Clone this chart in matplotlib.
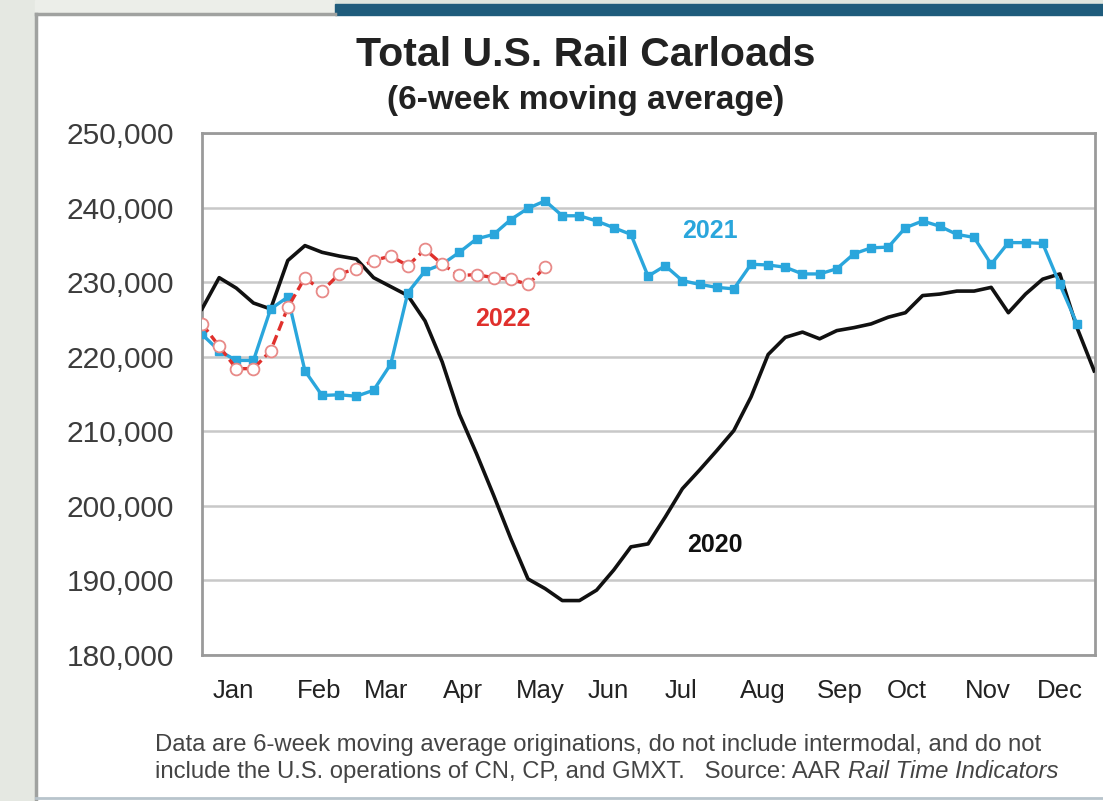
import matplotlib
matplotlib.use("Agg")
from matplotlib import pyplot as plt
from matplotlib.patches import Rectangle
from matplotlib.lines import Line2D
from matplotlib.ticker import FuncFormatter

plt.rcParams["font.family"] = ["Liberation Sans", "DejaVu Sans"]

# weekly 6-week moving averages of carloads
weeks_2020 = list(range(53))
carloads_2020 = [226400, 230600, 229200, 227200, 226400, 232900, 234900, 234000, 233500, 233100,
                 230600, 229400, 228200, 224800, 219300, 212300, 207000, 201400, 195600, 190200,
                 188900, 187300, 187300, 188700, 191400, 194500, 194900, 198500, 202300, 204800,
                 207400, 210100, 214600, 220300, 222600, 223300, 222400, 223500, 223900, 224400,
                 225300, 225900, 228200, 228400, 228800, 228800, 229300, 225900, 228400, 230400,
                 231100, 223900, 218100]

weeks_2021 = list(range(52))
carloads_2021 = [223000, 220800, 219500, 219500, 226400, 228000, 218100, 214800, 214900, 214700,
                 215500, 219000, 228600, 231500, 232400, 234000, 235800, 236400, 238400, 239900,
                 240900, 238900, 238900, 238200, 237300, 236400, 230800, 232200, 230200, 229700,
                 229300, 229100, 232400, 232300, 232000, 231100, 231100, 231800, 233800, 234600,
                 234700, 237300, 238200, 237500, 236400, 236000, 232400, 235300, 235300, 235200,
                 229700, 224400]

weeks_2022 = list(range(21))
carloads_2022 = [224400, 221400, 218400, 218400, 220800, 226600, 230600, 228800, 231100, 231800,
                 232900, 233500, 232200, 234400, 232400, 230900, 231000, 230600, 230400, 229700,
                 232000]

month_labels = ["Jan", "Feb", "Mar", "Apr", "May", "Jun", "Jul", "Aug", "Sep", "Oct", "Nov", "Dec"]
month_pos = [1.8, 6.8, 10.7, 15.2, 19.7, 23.7, 27.9, 32.7, 37.2, 41.1, 45.8, 50.0]
y_ticks = [180000, 190000, 200000, 210000, 220000, 230000, 240000, 250000]

blue = "#2aa6dc"
red = "#e0302c"

fig = plt.figure(figsize=(11.03, 8.01), dpi=100)
W, H = 1103, 801

def px(x, y, w, h):
    # rectangle in pixel units measured from the top-left corner
    return (x / W, 1 - (y + h) / H), w / W, h / H

# slide frame around the chart
for (x, y, w, h), c in [((0, 0, 35, 801), "#e5e8e2"), ((35, 0, 300, 14), "#eceee9"),
                        ((335, 0, 768, 4), "#dfe6df"), ((335, 4, 768, 11), "#1f5c7c")]:
    xy, ww, hh = px(x, y, w, h)
    fig.patches.append(Rectangle(xy, ww, hh, transform=fig.transFigure, color=c, zorder=0))
fig.lines.append(Line2D([36 / W, 36 / W], [0, 1 - 14 / H], transform=fig.transFigure,
                        color="#a0a2a0", lw=2.5))
fig.lines.append(Line2D([36 / W, 335 / W], [1 - 14 / H, 1 - 14 / H], transform=fig.transFigure,
                        color="#a0a2a0", lw=2.5))
fig.lines.append(Line2D([36 / W, 1], [1 - 798 / H, 1 - 798 / H], transform=fig.transFigure,
                        color="#b8c4cc", lw=2))

ax = fig.add_axes([202 / W, 1 - 655 / H, (1095 - 202) / W, (655 - 133) / H])
ax.set_xlim(0, 52.05)
ax.set_ylim(180000, 250000)

ax.plot(weeks_2020, carloads_2020, color="#111111", lw=2.6, zorder=3)
ax.plot(weeks_2021, carloads_2021, color=blue, lw=2.4, marker="s", ms=6, zorder=4)
ax.plot(weeks_2022, carloads_2022, color=red, lw=2.4, ls=(0, (3, 1.5)), marker="o", ms=8.5,
        mfc="white", mec="#e88a88", mew=1.3, zorder=5)

ax.set_yticks(y_ticks)
ax.yaxis.set_major_formatter(FuncFormatter(lambda v, p: f"{int(v):,}"))
ax.set_xticks(month_pos)
ax.set_xticklabels(month_labels)
ax.tick_params(axis="both", length=0)
ax.tick_params(axis="y", pad=20, labelsize=21.5, labelcolor="#3c3c3c")
ax.tick_params(axis="x", pad=17, labelsize=18.5, labelcolor="#222222")
ax.grid(axis="y", color="#c8c8c8", lw=1.8)
ax.set_axisbelow(True)
for s in ax.spines.values():
    s.set_color("#9a9a9a")
    s.set_linewidth(2)

ax.text(29.6, 236900, "2021", color=blue, fontsize=18, fontweight="bold", ha="center", va="center")
ax.text(17.55, 225100, "2022", color=red, fontsize=18, fontweight="bold", ha="center", va="center")
ax.text(29.9, 194700, "2020", color="#111111", fontsize=18, fontweight="bold", ha="center", va="center")

fig.text(586 / W, 1 - 55 / H, "Total U.S. Rail Carloads", fontsize=29.5, fontweight="bold",
         ha="center", va="center", color="#222222")
fig.text(586 / W, 1 - 101 / H, "(6-week moving average)", fontsize=24, fontweight="bold",
         ha="center", va="center", color="#222222")

fig.text(155 / W, 1 - 745 / H,
         "Data are 6-week moving average originations, do not include intermodal, and do not",
         fontsize=17.2, color="#444444", ha="left", va="center")
src = fig.text(155 / W, 1 - 772 / H,
               "include the U.S. operations of CN, CP, and GMXT.   Source: AAR ",
               fontsize=17.2, color="#444444", ha="left", va="center")
fig.canvas.draw()
x_end = src.get_window_extent().x1 / W
fig.text(x_end, 1 - 772 / H, "Rail Time Indicators", fontsize=17.2, color="#444444",
         ha="left", va="center", style="italic")

fig.savefig("out.png", dpi=100)
